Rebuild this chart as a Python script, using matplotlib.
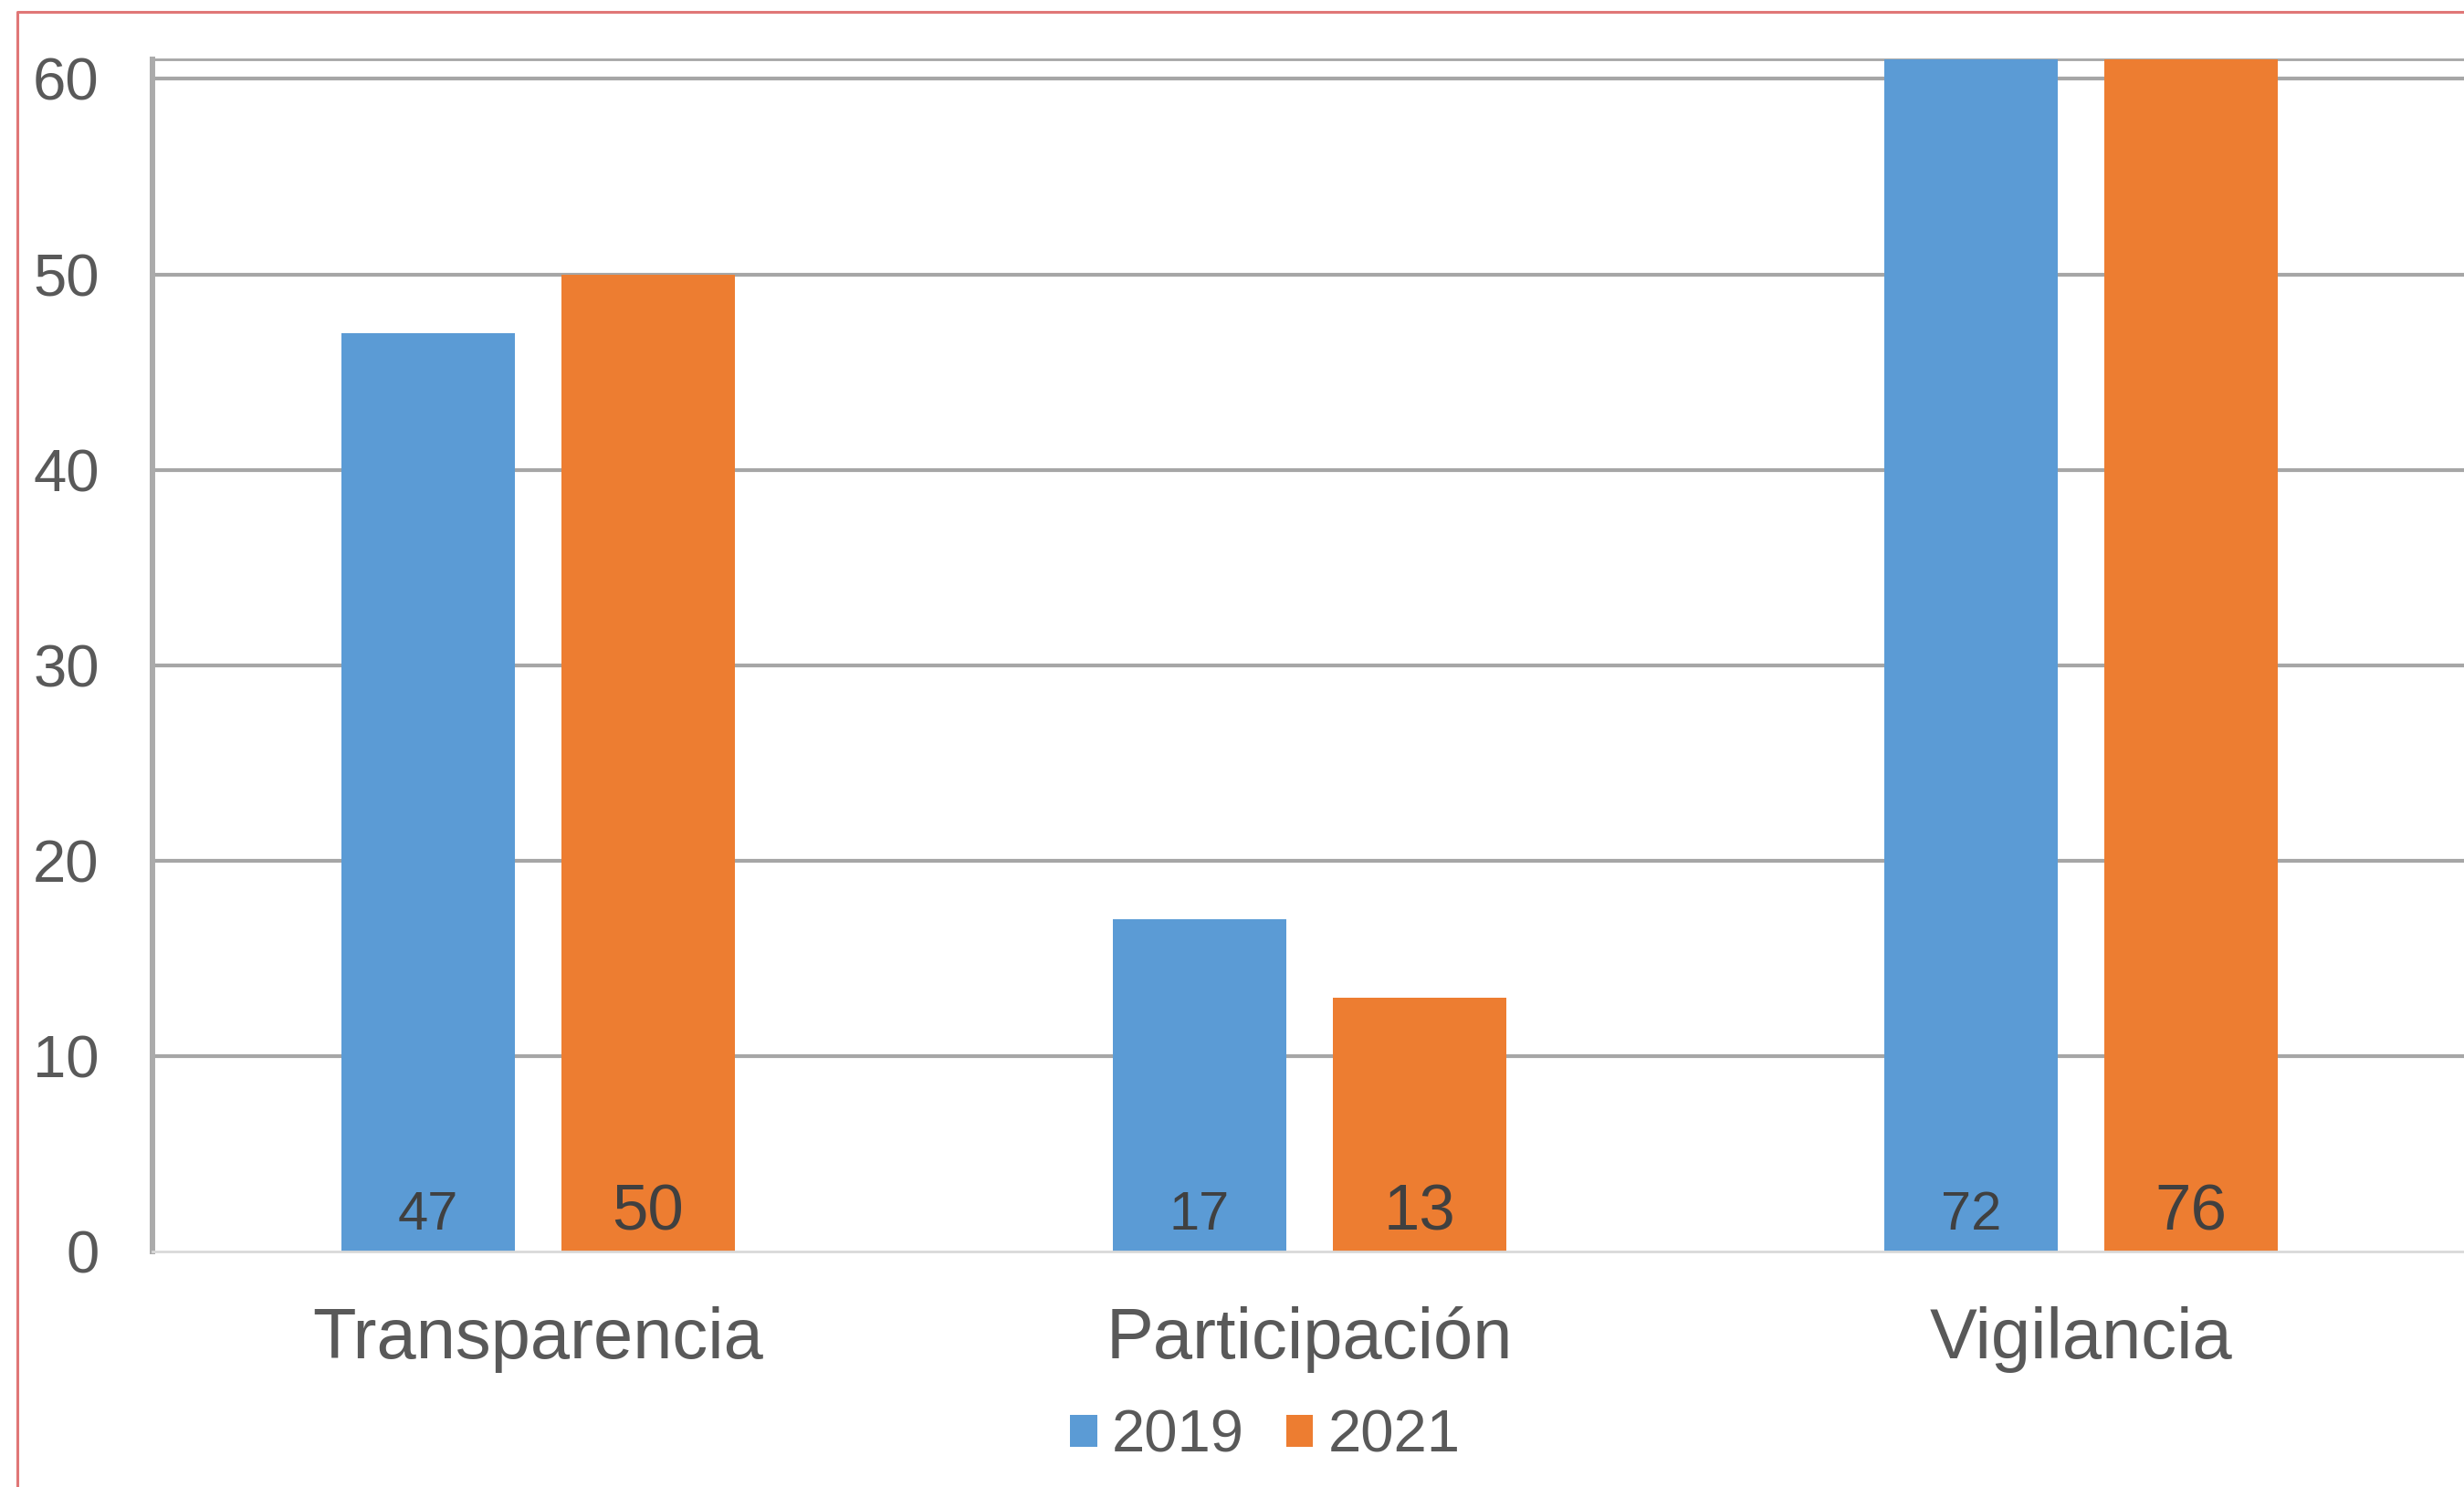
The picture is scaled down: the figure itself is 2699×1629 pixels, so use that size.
import matplotlib
matplotlib.use("Agg")
import matplotlib.pyplot as plt
from matplotlib.patches import Patch
from matplotlib.lines import Line2D
import numpy as np

categories = ["Transparencia", "Participación", "Vigilancia"]
series_names = ["2019", "2021"]
values_2019 = [47, 17, 72]
values_2021 = [50, 13, 76]
y_ticks = [0, 10, 20, 30, 40, 50, 60]

BLUE = "#5B9BD5"
ORANGE = "#ED7D31"
TXT = "#595959"
LBL = "#404040"
GRID = "#A6A6A6"

plt.rcParams['font.family'] = ['Liberation Sans', 'DejaVu Sans']

W, H = 2699, 1629
fig = plt.figure(figsize=(W / 100, H / 100), dpi=100)
fig.patch.set_facecolor("white")

ax = fig.add_axes([167 / W, 1 - 1371 / H, 2535 / W, (1371 - 65) / H])

x = np.arange(len(categories))
bw = 0.224
off = 0.1425
b1 = ax.bar(x - off, values_2019, bw, color=BLUE, zorder=3)
b2 = ax.bar(x + off, values_2021, bw, color=ORANGE, zorder=3)

ax.set_xlim(-0.5, 2.5)
ax.set_ylim(0, 61)
ax.set_yticks(y_ticks)
ax.set_yticklabels([str(t) for t in y_ticks])
ax.set_xticks(x)
ax.set_xticklabels(categories)

for t in y_ticks[1:]:
    ax.axhline(t, color=GRID, lw=3.0, zorder=1)

ax.tick_params(axis='y', length=0, pad=42, labelsize=47, labelcolor=TXT)
ax.tick_params(axis='x', length=0, pad=43, labelsize=56, labelcolor=TXT)

for s in ["right"]:
    ax.spines[s].set_visible(False)
ax.spines["left"].set_color("#ABABAB")
ax.spines["left"].set_linewidth(4.3)
ax.spines["left"].set_zorder(4)
ax.spines["top"].set_color(GRID)
ax.spines["top"].set_linewidth(2.0)
ax.spines["bottom"].set_color("#D9D9D9")
ax.spines["bottom"].set_linewidth(2.0)
ax.spines["bottom"].set_zorder(4)

for xi, v in zip(x - off, values_2019):
    ax.annotate(str(v), xy=(xi, 0), xytext=(0, 17), textcoords="offset points",
                ha="center", va="baseline", fontsize=43, color=LBL, zorder=5)
for xi, v in zip(x + off, values_2021):
    ax.annotate(str(v), xy=(xi, 0), xytext=(0, 17), textcoords="offset points",
                ha="center", va="baseline", fontsize=51, color=LBL, zorder=5)

handles = [Patch(facecolor=BLUE, edgecolor="none"), Patch(facecolor=ORANGE, edgecolor="none")]
leg = fig.legend(handles, series_names, loc="center", bbox_to_anchor=(0.5135, 0.034),
                 ncol=2, frameon=False, fontsize=47, handlelength=0.45, handleheight=0.45,
                 handletextpad=0.25, columnspacing=0.7, borderpad=0)
for t in leg.get_texts():
    t.set_color(TXT)

# red outer border (left & top)
fig.add_artist(Line2D([19 / W, 19 / W, 1.0], [0.0, 1 - 13 / H, 1 - 13 / H],
                      transform=fig.transFigure, color="#E07777", lw=2.2))

fig.savefig("out.png", dpi=100, facecolor="white")
